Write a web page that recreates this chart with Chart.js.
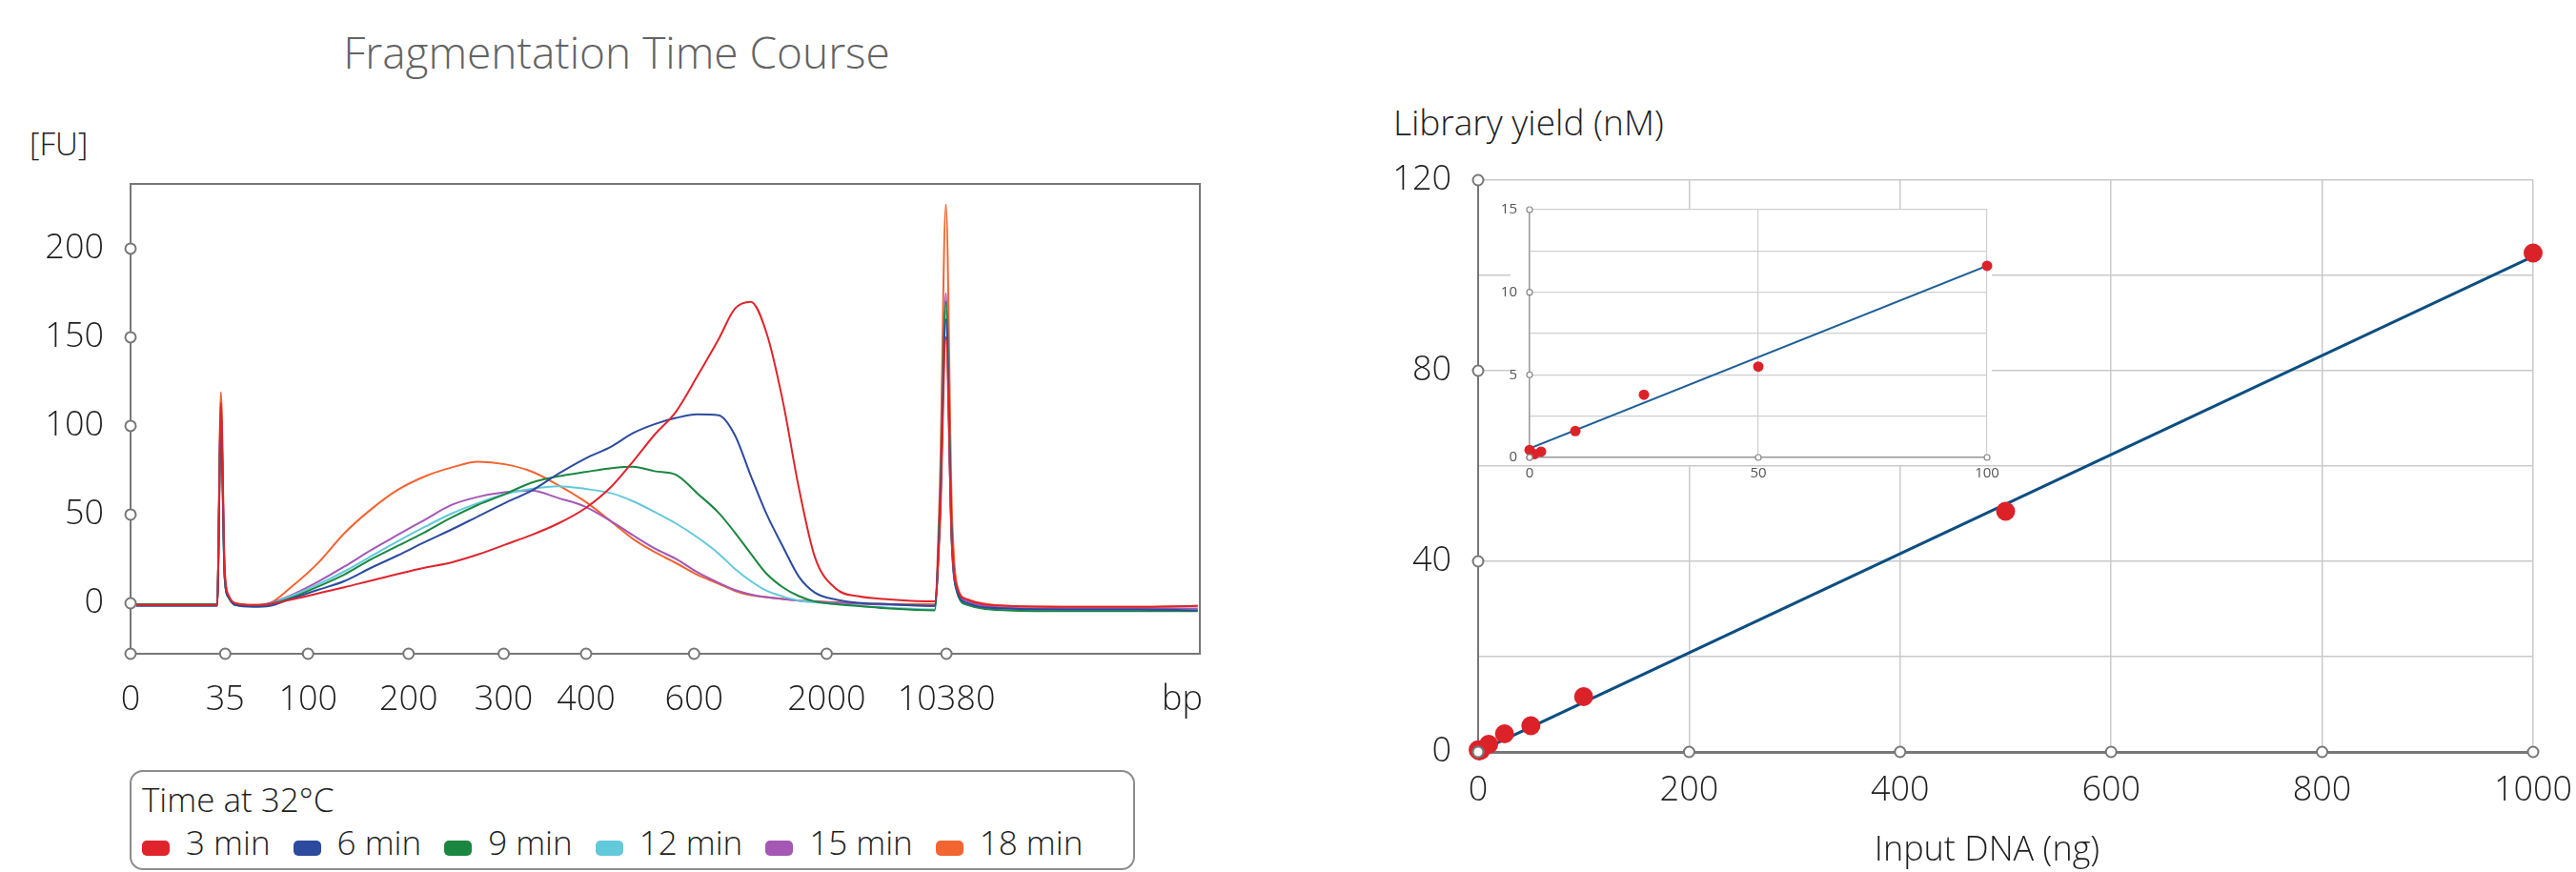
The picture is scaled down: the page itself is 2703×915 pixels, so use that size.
<!DOCTYPE html>
<html lang="en">
<head>
<meta charset="utf-8">
<title>Fragmentation Time Course / Library Yield</title>
<script src="https://cdn.jsdelivr.net/npm/chart.js@4.4.1/dist/chart.umd.min.js"></script>
<style>
    html, body { margin: 0; padding: 0; background: #fff; }
    body {
        position: relative;
        width: 2703px;
        height: 915px;
        overflow: hidden;
        font-family: 'Open Sans', sans-serif;
        font-weight: 300;
        color: #1e1e1e;
    }
    canvas, .label, #legend { position: absolute; }
    .label { line-height: 1; white-space: nowrap; }
    #fragTitle { left: 0; width: 1294px; text-align: center; top: 31px; font-size: 46px; color: #636363; }
    #fuLabel { left: 31px; top: 134px; font-size: 33px; }
    #yieldLabel { left: 1462px; top: 109px; font-size: 37px; }
    #inputLabel { left: 1885px; width: 400px; text-align: center; top: 872px; font-size: 36px; }
    #legend {
        left: 136px;
        top: 808px;
        width: 1055px;
        height: 105px;
        box-sizing: border-box;
        border: 2px solid #8c8c8c;
        border-radius: 14px;
    }
    #legendTitle { position: absolute; left: 11px; top: 11px; font-size: 35px; line-height: 1; }
    #legendItems { position: absolute; left: 11px; top: 56px; display: flex; font-size: 35px; line-height: 1; white-space: nowrap; }
    .legend-item { display: flex; align-items: flex-start; margin-right: 24px; }
    .legend-swatch { width: 29px; height: 16px; margin-top: 16px; margin-right: 17px; border-radius: 5px; }
</style>
</head>
<body>
<div id="fragTitle" class="label">Fragmentation Time Course</div>
<div id="fuLabel" class="label">[FU]</div>
<canvas id="fragChart" width="1300" height="620" style="left:0;top:150px;"></canvas>
<div id="legend">
    <div id="legendTitle">Time at 32°C</div>
    <div id="legendItems"></div>
</div>

<div id="yieldLabel" class="label">Library yield (nM)</div>
<canvas id="yieldChart" width="1283" height="765" style="left:1420px;top:150px;"></canvas>
<canvas id="insetChart" width="570" height="320" style="left:1540px;top:195px;"></canvas>
<div id="inputLabel" class="label">Input DNA (ng)</div>

<script>
// Electropherogram: x is the migration position across the plot (0-100), labelled with ladder sizes
const sizeTickPos = [0, 8.85, 16.6, 26.0, 34.9, 42.6, 52.7, 65.1, 76.3, 98.35];
const sizeTickLabels = ['0', '35', '100', '200', '300', '400', '600', '2000', '10380', 'bp'];
const fuTicks = [0, 50, 100, 150, 200];

const migration = [0.5, 4, 8.1, 8.45, 8.8, 9.2, 9.8, 11.5, 13, 15, 17.5, 20, 22.5, 25, 27.5, 30, 32.5, 35, 37.5, 40,
    42.5, 45, 47, 49, 51, 53, 55, 56.5, 58, 59.5, 61, 62.5, 64, 66, 68, 71, 75.2, 75.7, 76.25, 76.8, 77.3, 78.3, 82, 88, 94, 99.8];

const fu3min = [-1, -1, -1, 113, 18, 4, 0, -1, -0.5, 2, 5.5, 9, 12.8, 16.5, 20, 23, 27.5, 33, 38.5, 45,
    53.5, 66, 80, 95, 108, 128, 149, 166, 170, 152, 114, 65, 26, 8, 4, 2.2, 1, 45, 150, 35, 9, 2, -1.5, -2, -2, -1.5];
const fu6min = [-1.5, -1.5, -1.5, 105, 15, 3, -1, -2, -1.5, 2.5, 7.5, 12.5, 20, 27, 34.5, 41.5, 49, 56.5, 63.5, 73,
    81.5, 88.5, 96, 101, 104.5, 106.5, 106, 95, 72, 50, 32, 15, 6, 2, 0.3, -0.5, -1.5, 50, 160, 35, 7, 0, -3, -3.5, -3.5, -4];
const fu9min = [-0.5, -0.5, -0.5, 100, 14, 3, -1, -1.5, -0.5, 3, 9.3, 16.2, 24.8, 32.4, 40, 48.3, 55.5, 61.5, 68, 71.6,
    74, 76.2, 77, 74.5, 72.5, 62, 51, 40, 28, 16.5, 9, 4, 1, -0.5, -1.5, -3, -4, 55, 170, 38, 6, -1, -4, -4.5, -4.5, -4.5];
const fu12min = [-1, -1, -1, 103, 15, 3, -1, -1.5, -0.5, 4, 10.5, 18, 26.5, 35, 43, 50.5, 56.5, 61.5, 64.5, 66,
    64.5, 62, 57.5, 51.5, 45, 37.2, 28, 19.5, 12.5, 7, 3.8, 1.5, 0.5, -0.5, -1.5, -2.5, -3.5, 50, 165, 35, 6, -1, -3.5, -4, -4, -4];
const fu15min = [-1, -1, -1, 108, 16, 3, -1, -1.5, 0, 4.5, 12, 20.7, 30, 38.6, 47, 55.4, 60, 62.6, 63.5, 59.3,
    54.5, 46, 38.3, 31, 25, 17.5, 11.5, 7.5, 5, 3.3, 2.3, 1.5, 1, 0.2, -0.3, -0.8, -1.5, 55, 175, 40, 8, 1, -2.5, -3, -3, -3];
const fu18min = [-0.5, -0.5, -0.5, 119, 20, 4, 0, -1, 0, 9, 22.5, 39.5, 53, 64, 71.5, 76.5, 79.8, 78.4, 74.3, 66.6,
    57.4, 45.8, 36.2, 28.9, 22.7, 16, 11, 7, 4.5, 3.5, 2.5, 1.5, 1, 0.5, 0, -0.5, -0.5, 70, 225, 55, 10, 2, -1.5, -2, -2, -1.5];

const timeLabels = ['3 min', '6 min', '9 min', '12 min', '15 min', '18 min'];
const timeColors = ['#e0242c', '#2c4a9e', '#1b8640', '#62c9da', '#a457b5', '#f26430'];

// Library yield vs input DNA (main plot and 0-100 ng inset)
const inputDna = [0, 1, 2.5, 10, 25, 50, 100, 500, 1000];
const libraryYield = [0.45, 0.2, 0.35, 1.6, 3.8, 5.5, 11.6, 50.5, 104.7];
const fitInput = [0, 1000];
const fitYield = [0, 104];
const insetFitInput = [0, 100];
const insetFitYield = [0.55, 11.6];

const markerColor = '#777';
const textColor = '#1e1e1e';

// Fixed axis sizes; drop the label overhang padding so layout.padding alone sets the plot area
function fixY(width) {
    return scale => {
        scale.width = width;
        scale.paddingTop = 0;
        scale.paddingBottom = 0;
    };
}
function fixX(height) {
    return scale => {
        scale.height = height;
        scale.paddingLeft = 0;
        scale.paddingRight = 0;
    };
}

// Hollow tick circles on the axes (and optional frame round the plot area)
function axisMarkers(cfg) {
    return {
        id: 'axisMarkers',
        afterDraw(chart) {
            const { ctx, chartArea: area } = chart;
            const xs = chart.scales.x;
            const ys = chart.scales.y;
            ctx.save();
            ctx.strokeStyle = cfg.color;
            ctx.lineWidth = cfg.lineWidth;
            if (cfg.frame) {
                ctx.strokeRect(area.left, area.top, area.width, area.height);
            }
            ctx.fillStyle = '#fff';
            const dot = (px, py) => {
                ctx.beginPath();
                ctx.arc(px, py, cfg.radius, 0, Math.PI * 2);
                ctx.fill();
                ctx.stroke();
            };
            xs.ticks.forEach((t, i) => {
                if (cfg.markX(t.value, i)) dot(xs.getPixelForValue(t.value), area.bottom);
            });
            ys.ticks.forEach((t, i) => {
                if (cfg.markY(t.value, i)) dot(area.left, ys.getPixelForValue(t.value));
            });
            ctx.restore();
        }
    };
}

// Inset sits on a white card so the big chart's grid doesn't show through
const insetBackground = {
    id: 'insetBackground',
    beforeDraw(chart) {
        const { ctx, chartArea: a } = chart;
        ctx.save();
        ctx.fillStyle = '#fff';
        ctx.fillRect(a.left - 20, a.top, a.width + 25, a.height + 8);
        ctx.restore();
    }
};

document.addEventListener('DOMContentLoaded', function() {
    Chart.defaults.font.family = "'Open Sans', sans-serif";
    Chart.defaults.color = textColor;

    const tickFont = { size: 36, weight: '300' };

    // Legend box
    const legendItems = document.getElementById('legendItems');
    timeLabels.forEach((label, i) => {
        const item = document.createElement('div');
        item.className = 'legend-item';
        const swatch = document.createElement('span');
        swatch.className = 'legend-swatch';
        swatch.style.background = timeColors[i];
        const text = document.createElement('span');
        text.textContent = label;
        item.appendChild(swatch);
        item.appendChild(text);
        legendItems.appendChild(item);
    });

    // Fragmentation time course traces
    const traces = [fu3min, fu6min, fu9min, fu12min, fu15min, fu18min];
    new Chart(document.getElementById('fragChart'), {
        type: 'line',
        data: {
            datasets: traces.map((trace, i) => ({
                label: timeLabels[i],
                data: migration.map((x, k) => ({ x: x, y: trace[k] })),
                borderColor: timeColors[i],
                borderWidth: 2,
                pointRadius: 0,
                cubicInterpolationMode: 'monotone',
                fill: false
            }))
        },
        options: {
            responsive: false,
            animation: false,
            layout: { autoPadding: false, padding: { top: 43, right: 41, left: 0, bottom: 0 } },
            plugins: { legend: { display: false }, tooltip: { enabled: false } },
            scales: {
                x: {
                    type: 'linear',
                    min: 0,
                    max: 100,
                    afterBuildTicks: scale => { scale.ticks = sizeTickPos.map(v => ({ value: v })); },
                    afterFit: fixX(84),
                    grid: { display: false, drawTicks: false },
                    border: { color: markerColor, width: 2 },
                    ticks: {
                        autoSkip: false,
                        maxRotation: 0,
                        padding: 27,
                        font: tickFont,
                        color: textColor,
                        callback: (value, index) => sizeTickLabels[index]
                    }
                },
                y: {
                    min: -28.5,
                    max: 236.5,
                    afterBuildTicks: scale => { scale.ticks = fuTicks.map(v => ({ value: v })); },
                    afterFit: fixY(137),
                    grid: { display: false, drawTicks: false },
                    border: { color: markerColor, width: 2 },
                    ticks: { padding: 28, font: tickFont, color: textColor }
                }
            }
        },
        plugins: [axisMarkers({
            frame: true, radius: 5.5, lineWidth: 2, color: markerColor,
            markX: (v, i) => i < sizeTickPos.length - 1,
            markY: () => true
        })]
    });

    // Library yield, 0-1000 ng
    new Chart(document.getElementById('yieldChart'), {
        type: 'scatter',
        data: {
            datasets: [
                {
                    data: inputDna.map((x, i) => ({ x: x, y: libraryYield[i] })),
                    backgroundColor: '#dc2229',
                    borderWidth: 0,
                    pointRadius: 10,
                    pointHoverRadius: 10,
                    clip: false
                },
                {
                    type: 'line',
                    data: fitInput.map((x, i) => ({ x: x, y: fitYield[i] })),
                    borderColor: '#0c4e80',
                    borderWidth: 3,
                    pointRadius: 0
                }
            ]
        },
        options: {
            responsive: false,
            animation: false,
            layout: { autoPadding: false, padding: { top: 39, right: 45, left: 0, bottom: 0 } },
            plugins: { legend: { display: false }, tooltip: { enabled: false } },
            scales: {
                x: {
                    min: 0,
                    max: 1000,
                    afterFit: fixX(126),
                    grid: { color: '#cacaca', lineWidth: 1.5, drawTicks: false },
                    border: { color: markerColor, width: 3 },
                    ticks: { stepSize: 200, padding: 19, maxRotation: 0, font: tickFont, color: textColor, callback: v => String(v) }
                },
                y: {
                    min: 0,
                    max: 120,
                    afterFit: fixY(131),
                    grid: { color: '#cacaca', lineWidth: 1.5, drawTicks: false },
                    border: { color: markerColor, width: 2 },
                    ticks: {
                        stepSize: 20,
                        padding: 28,
                        font: tickFont,
                        color: textColor,
                        callback: v => (v % 40 === 0 ? String(v) : '')
                    }
                }
            }
        },
        plugins: [axisMarkers({
            frame: false, radius: 5.5, lineWidth: 2, color: markerColor,
            markX: () => true,
            markY: v => v % 40 === 0
        })]
    });

    // Inset, 0-100 ng
    const insetN = 7;
    new Chart(document.getElementById('insetChart'), {
        type: 'scatter',
        data: {
            datasets: [
                {
                    data: inputDna.slice(0, insetN).map((x, i) => ({ x: x, y: libraryYield[i] })),
                    backgroundColor: '#dc2229',
                    borderWidth: 0,
                    pointRadius: 5.5,
                    pointHoverRadius: 5.5,
                    clip: false
                },
                {
                    type: 'line',
                    data: insetFitInput.map((x, i) => ({ x: x, y: insetFitYield[i] })),
                    borderColor: '#1d5f96',
                    borderWidth: 2,
                    pointRadius: 0
                }
            ]
        },
        options: {
            responsive: false,
            animation: false,
            layout: { autoPadding: false, padding: { top: 25, right: 25, left: 0, bottom: 0 } },
            plugins: { legend: { display: false }, tooltip: { enabled: false } },
            scales: {
                x: {
                    min: 0,
                    max: 100,
                    afterFit: fixX(35),
                    grid: { color: '#cfcfcf', lineWidth: 1.2, drawTicks: false },
                    border: { color: '#999', width: 1.5 },
                    ticks: { stepSize: 50, padding: 8, maxRotation: 0, font: { size: 15 }, color: '#555' }
                },
                y: {
                    min: 0,
                    max: 15,
                    afterFit: fixY(65),
                    grid: { color: '#cfcfcf', lineWidth: 1.2, drawTicks: false },
                    border: { color: '#999', width: 1.5 },
                    ticks: {
                        stepSize: 2.5,
                        padding: 13,
                        font: { size: 15 },
                        color: '#555',
                        callback: v => (v % 5 === 0 ? String(v) : '')
                    }
                }
            }
        },
        plugins: [insetBackground, axisMarkers({
            frame: false, radius: 3, lineWidth: 1.2, color: '#888',
            markX: () => true,
            markY: v => v % 5 === 0
        })]
    });
});
</script>
</body>
</html>
